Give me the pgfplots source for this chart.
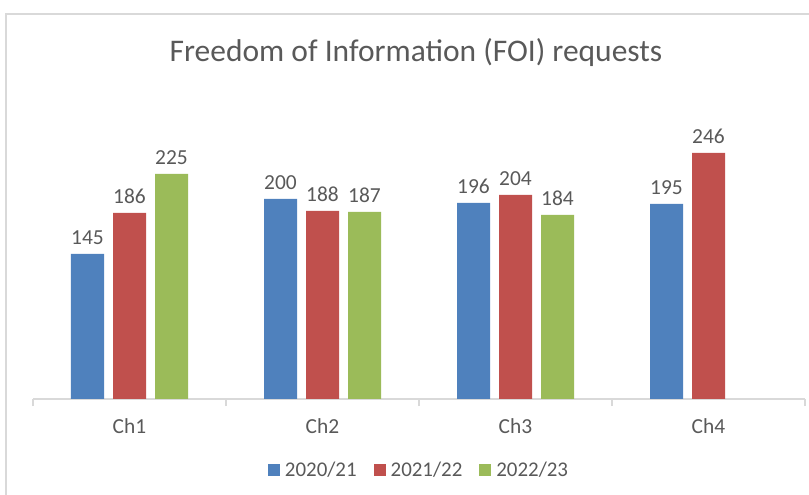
\documentclass[border=0pt]{standalone}
\usepackage{pgfplots}
\pgfplotsset{compat=1.18}
\usepackage{fontspec}
\setmainfont{Carlito}
\definecolor{cblue}{HTML}{4F81BD}
\definecolor{cred}{HTML}{C0504D}
\definecolor{cgreen}{HTML}{9BBB59}
\definecolor{txtgray}{HTML}{595959}
\definecolor{axisgray}{HTML}{D9D9D9}
\definecolor{bordergray}{HTML}{D9D9D9}
\pgfplotsset{
  sqlegend/.style={legend image code/.code={\fill[##1] (0bp,-6bp) rectangle (12bp,6bp); \path (15bp,0bp);}},
}
\begin{document}
\begin{tikzpicture}
\path[use as bounding box] (0,0) rectangle (809bp,495bp);
\draw[color=bordergray, line width=1.5bp] (6bp,-5bp) -- (6bp,481bp) -- (815bp,481bp);
\node[text=txtgray, font=\fontsize{31.6}{38}\selectfont] at (416bp,442bp) {Freedom of Information (FOI) requests};
\begin{axis}[
  at={(33bp,96bp)}, anchor=south west,
  scale only axis, width=772bp, height=300bp,
  xmin=-0.5, xmax=3.5, ymin=0, ymax=300,
  ybar, bar width=33bp,
  clip=false,
  axis x line*=bottom, axis y line=none,
  x axis line style={-, draw=axisgray, line width=1.2bp},
  xtick={0,1,2,3}, xticklabels={Ch1,Ch2,Ch3,Ch4},
  major x tick style={draw=none},
  minor xtick={-0.5,0.5,1.5,2.5,3.5},
  minor tick length=7bp, tick align=outside,
  minor x tick style={draw=axisgray, line width=1.2bp},
  ytick=\empty,
  xticklabel style={font=\fontsize{21.5}{25}\selectfont, text=txtgray, yshift=-12bp},
  /pgf/number format/assume math mode=true,
  nodes near coords,
  every node near coord/.append style={font=\fontsize{21.5}{25}\selectfont, text=txtgray, anchor=south, yshift=6bp},
  legend style={at={(0.5,-0.2367)}, anchor=center, draw=none, fill=none,
    legend columns=3, font=\fontsize{21}{25}\selectfont, text=txtgray,
    /tikz/every even column/.append style={column sep=15bp}},
]
\addplot[fill=cblue, draw=none, bar shift=-42bp, sqlegend]
  coordinates {(0,145) (1,200) (2,196) (3,195)};
\addplot[fill=cred, draw=none, bar shift=0bp, sqlegend]
  coordinates {(0,186) (1,188) (2,204) (3,246)};
\addplot[fill=cgreen, draw=none, bar shift=42bp, sqlegend]
  coordinates {(0,225) (1,187) (2,184)};
\legend{2020/21,2021/22,2022/23}
\end{axis}
\end{tikzpicture}
\end{document}
